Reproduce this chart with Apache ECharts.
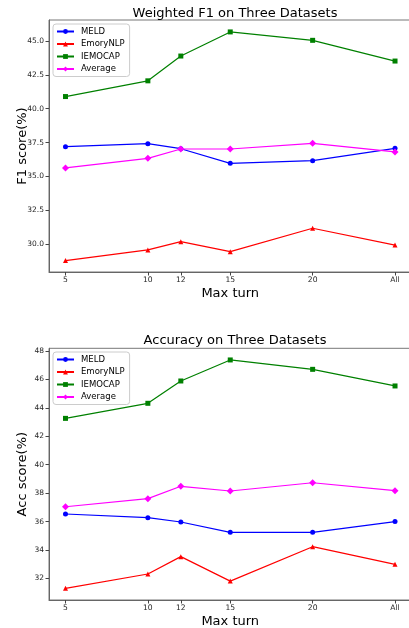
<!DOCTYPE html>
<html><head><meta charset="utf-8">
<script src="https://cdn.jsdelivr.net/npm/echarts@6/dist/echarts.min.js"></script>
<style>html,body{margin:0;padding:0;background:#fff}#c{width:409px;height:628px}</style>
</head><body><div id="c"></div>
<script>
const xTicks = [5, 10, 12, 15, 20, 25];
const xLabels = ['5', '10', '12', '15', '20', 'All'];
const seriesNames = ['MELD', 'EmoryNLP', 'IEMOCAP', 'Average'];

const f1MELD = [37.2, 37.42, 37.05, 35.97, 36.17, 37.08];
const f1Emory = [28.79, 29.58, 30.19, 29.45, 31.18, 29.94];
const f1IEMOCAP = [40.9, 42.06, 43.89, 45.67, 45.05, 43.52];
const f1Average = [35.63, 36.34, 37.03, 37.03, 37.45, 36.81];
const f1Ticks = [30, 32.5, 35, 37.5, 40, 42.5, 45];

const accMELD = [36.53, 36.27, 35.97, 35.24, 35.24, 36.0];
const accEmory = [31.3, 32.31, 33.53, 31.81, 34.23, 32.99];
const accIEMOCAP = [43.26, 44.32, 45.89, 47.37, 46.71, 45.54];
const accAverage = [37.04, 37.61, 38.48, 38.15, 38.73, 38.17];
const accTicks = [32, 34, 36, 38, 40, 42, 44, 46, 48];

const colors = ['#0000ff', '#ff0000', '#008000', '#ff00ff'];
const symbols = ['circle', 'triangle', 'rect', 'diamond'];
const symSizes = [5, 5, 5, 7];
const FONT = 'DejaVu Sans';

function pairs(vals) { return xTicks.map((x, i) => [x, vals[i]]); }

function mkSeries(gi, arrs) {
  return arrs.map((vals, k) => ({
    name: seriesNames[k], type: 'line', xAxisIndex: gi, yAxisIndex: gi,
    data: pairs(vals), symbol: symbols[k], symbolSize: symSizes[k],
    lineStyle: { color: colors[k], width: 1.2 },
    itemStyle: { color: colors[k] }, z: 3 + k
  }));
}

function mkX(gi) {
  return {
    type: 'value', gridIndex: gi, min: 4, max: 26,
    name: 'Max turn', nameLocation: 'middle', nameGap: 15, nameMoveOverlap: false,
    nameTextStyle: { fontFamily: FONT, fontSize: 13, color: '#000' },
    axisLine: { lineStyle: { color: '#666', width: 1 } },
    axisTick: { customValues: xTicks, length: 3.5, lineStyle: { color: '#444' } },
    axisLabel: { customValues: xTicks, margin: 4, fontFamily: FONT, fontSize: 7.6, color: '#262626',
      formatter: v => xLabels[xTicks.indexOf(v)] },
    splitLine: { show: false }
  };
}
function mkY(gi, min, max, ticks, name, dec) {
  return {
    type: 'value', gridIndex: gi, min: min, max: max,
    name: name, nameLocation: 'middle', nameGap: 20, nameMoveOverlap: false,
    nameTextStyle: { fontFamily: FONT, fontSize: 13, color: '#000' },
    axisLine: { show: true, lineStyle: { color: '#666', width: 1 } },
    axisTick: { show: true, customValues: ticks, length: 3.5, lineStyle: { color: '#444' } },
    axisLabel: { customValues: ticks, margin: 5, fontFamily: FONT, fontSize: 7.5, color: '#262626',
      formatter: v => v.toFixed(dec) },
    splitLine: { show: false }
  };
}
function mkLegend(top) {
  return {
    data: seriesNames, orient: 'vertical', left: 53, top: top,
    itemWidth: 17, itemHeight: 6, itemGap: 3.5,
    padding: [3, 5, 3, 3],
    backgroundColor: 'rgba(255,255,255,0.85)', borderColor: '#ccc', borderWidth: 1, borderRadius: 3,
    textStyle: { fontFamily: FONT, fontSize: 8.5, color: '#000', padding: [0, 0, 0, 2] }
  };
}

const chart = echarts.init(document.getElementById('c'), null, { renderer: 'canvas' });
chart.setOption({
  animation: false,
  backgroundColor: '#fff',
  title: [
    { text: 'Weighted F1 on Three Datasets', left: 230, top: 2, textAlign: 'center',
      textStyle: { fontFamily: FONT, fontSize: 13, fontWeight: 'normal', color: '#000' } },
    { text: 'Accuracy on Three Datasets', left: 230, top: 329, textAlign: 'center',
      textStyle: { fontFamily: FONT, fontSize: 13, fontWeight: 'normal', color: '#000' } }
  ],
  legend: [mkLegend(24), mkLegend(352)],
  grid: [
    { left: 49, top: 20, width: 362.5, height: 252, show: true, borderColor: '#777', borderWidth: 1,
      containLabel: false, outerBoundsMode: 'none' },
    { left: 49, top: 348.3, width: 362.5, height: 251.7, show: true, borderColor: '#777', borderWidth: 1,
      containLabel: false, outerBoundsMode: 'none' }
  ],
  xAxis: [mkX(0), mkX(1)],
  yAxis: [mkY(0, 27.95, 46.55, f1Ticks, 'F1 score(%)', 1), mkY(1, 30.48, 48.19, accTicks, 'Acc score(%)', 0)],
  series: mkSeries(0, [f1MELD, f1Emory, f1IEMOCAP, f1Average]).concat(
          mkSeries(1, [accMELD, accEmory, accIEMOCAP, accAverage]))
});
</script></body></html>
